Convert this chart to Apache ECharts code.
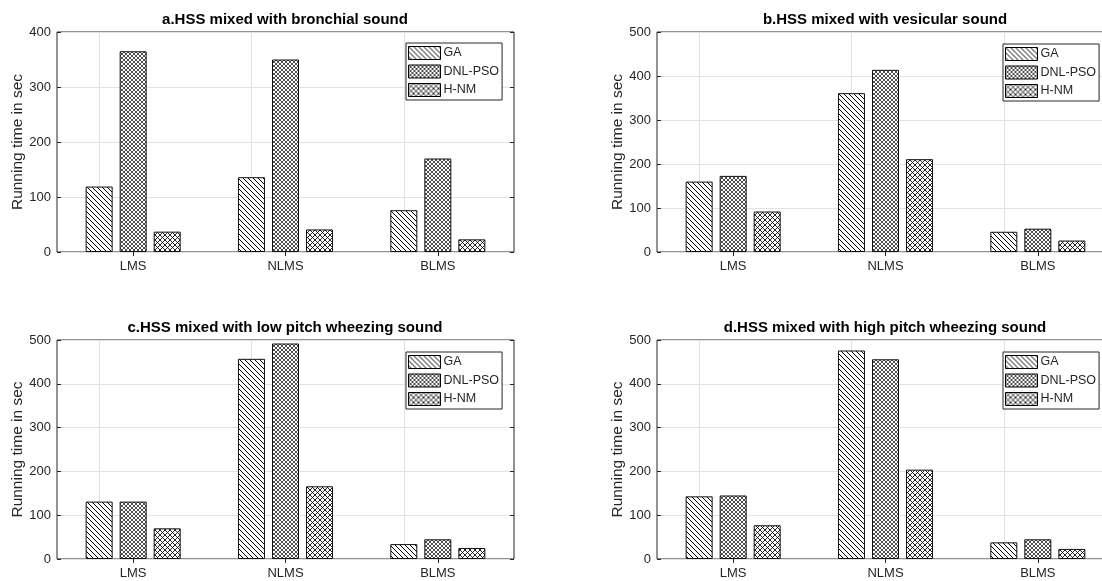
<!DOCTYPE html>
<html>
<head>
<meta charset="utf-8">
<script src="https://cdn.jsdelivr.net/npm/echarts@6/dist/echarts.min.js"></script>
<style>
  html, body { margin: 0; padding: 0; background: #fff; overflow: hidden; }
  /* the right-hand panels run slightly past the page edge */
  #chart { width: 1120px; height: 581px; }
</style>
</head>
<body>
<div id="chart"></div>
<script>
// Algorithms compared in every panel
const categories = ['LMS', 'NLMS', 'BLMS'];
const seriesNames = ['GA', 'DNL-PSO', 'H-NM'];

const panelTitles = [
  'a.HSS mixed with bronchial sound',
  'b.HSS mixed with vesicular sound',
  'c.HSS mixed with low pitch wheezing sound',
  'd.HSS mixed with high pitch wheezing sound'
];
const yAxisName = 'Running time in sec';
const yMax = [400, 500, 500, 500];

// Running times (s) per filter: LMS, NLMS, BLMS
const gaBronchial = [119, 136, 76];
const dnlBronchial = [365, 350, 170];
const hnmBronchial = [37, 41, 23];

const gaVesicular = [160, 361, 46];
const dnlVesicular = [173, 414, 53];
const hnmVesicular = [92, 211, 26];

const gaLowWheeze = [131, 457, 34];
const dnlLowWheeze = [131, 492, 45];
const hnmLowWheeze = [70, 166, 25];

const gaHighWheeze = [143, 476, 38];
const dnlHighWheeze = [145, 456, 45];
const hnmHighWheeze = [77, 204, 23];

const panelData = [
  [gaBronchial, dnlBronchial, hnmBronchial],
  [gaVesicular, dnlVesicular, hnmVesicular],
  [gaLowWheeze, dnlLowWheeze, hnmLowWheeze],
  [gaHighWheeze, dnlHighWheeze, hnmHighWheeze]
];

// Hatch pattern tiles: '\' lines, or cross-hatch
function makeTile(p, back, fwd, lw) {
  const c = document.createElement('canvas');
  c.width = p; c.height = p;
  const g = c.getContext('2d');
  g.fillStyle = '#fff';
  g.fillRect(0, 0, p, p);
  g.strokeStyle = '#000';
  g.lineWidth = lw;
  g.beginPath();
  for (const k of [-p, 0, p]) {
    if (back) { g.moveTo(k, 0); g.lineTo(k + p, p); }
    if (fwd) { g.moveTo(k, p); g.lineTo(k + p, 0); }
  }
  g.stroke();
  return { image: c, repeat: 'repeat' };
}
const fills = [makeTile(5, true, false, 1), makeTile(4, true, true, 0.7), makeTile(5, true, true, 0.85)];

// Panel geometry
const gLeft = [57, 657, 57, 657];
const gTop = [32, 32, 340, 340];
const gHeight = [220, 220, 219, 219];
const gWidth = 457;
const legLeft = [406, 1003, 406, 1003];
const legTop = [43, 44, 352, 352];
const titleTop = [12, 12, 320, 320];

const FONT = '"Liberation Sans", Arial, Helvetica, sans-serif';
const AX = '#262626';

const grids = [], xAxes = [], yAxes = [], series = [], titles = [], legends = [];

for (let i = 0; i < 4; i++) {
  grids.push({
    left: gLeft[i], top: gTop[i], width: gWidth, height: gHeight[i],
    show: true, borderColor: AX, borderWidth: 1, backgroundColor: 'transparent'
  });
  titles.push({
    text: panelTitles[i],
    left: gLeft[i] + 228, top: titleTop[i], textAlign: 'center', padding: 0,
    textStyle: { fontFamily: FONT, fontSize: 15, fontWeight: 'bold', color: '#000' }
  });
  legends.push({
    data: seriesNames,
    left: legLeft[i], top: legTop[i], orient: 'vertical',
    itemWidth: 32, itemHeight: 13, itemGap: 4.5,
    padding: [3, 3, 3, 2],
    backgroundColor: '#fff', borderColor: AX, borderWidth: 1, borderRadius: 0,
    icon: 'rect',
    itemStyle: { borderColor: '#000', borderWidth: 1 },
    textStyle: { fontFamily: FONT, fontSize: 12.5, color: AX, lineHeight: 13, padding: [0, 0, 0, -2] },
    selectedMode: false
  });
  // bottom and top category axes
  xAxes.push({
    type: 'category', data: categories, gridIndex: i, position: 'bottom',
    axisLine: { show: false },
    axisTick: { show: true, inside: true, length: 4, alignWithLabel: true, lineStyle: { color: AX } },
    axisLabel: { fontFamily: FONT, fontSize: 13, color: AX, margin: 8 },
    splitLine: { show: false }
  });
  xAxes.push({
    type: 'category', data: categories, gridIndex: i, position: 'top',
    axisLine: { show: false },
    axisTick: { show: true, inside: true, length: 4, alignWithLabel: true, lineStyle: { color: AX } },
    axisLabel: { show: false },
    splitLine: { show: false }
  });
  // left and right value axes
  yAxes.push({
    type: 'value', gridIndex: i, position: 'left', min: 0, max: yMax[i], interval: 100,
    name: yAxisName, nameLocation: 'middle', nameGap: 31, nameRotate: 90,
    nameTextStyle: { fontFamily: FONT, fontSize: 15.5, color: AX },
    axisLine: { show: false },
    axisTick: { show: true, inside: true, length: 4, lineStyle: { color: AX } },
    axisLabel: { fontFamily: FONT, fontSize: 13, color: AX, margin: 6 },
    splitLine: { show: true, lineStyle: { color: '#e2e2e2', width: 1 } }
  });
  yAxes.push({
    type: 'value', gridIndex: i, position: 'right', min: 0, max: yMax[i], interval: 100,
    axisLine: { show: false },
    axisTick: { show: true, inside: true, length: 4, lineStyle: { color: AX } },
    axisLabel: { show: false },
    splitLine: { show: false }
  });

  for (let s = 0; s < 3; s++) {
    const ser = {
      name: seriesNames[s], type: 'bar',
      xAxisIndex: 2 * i, yAxisIndex: 2 * i,
      data: panelData[i][s],
      barWidth: 27, barGap: '26%',
      itemStyle: { color: fills[s], borderColor: '#111', borderWidth: 1 },
      emphasis: { disabled: true },
      z: 2
    };
    if (s === 0) {
      // vertical grid lines at each category
      ser.markLine = {
        silent: true, symbol: 'none', z: 1,
        label: { show: false },
        lineStyle: { color: '#e2e2e2', width: 1, type: 'solid' },
        data: categories.map(c => ({ xAxis: c }))
      };
    }
    series.push(ser);
  }
}

const chart = echarts.init(document.getElementById('chart'), null, { renderer: 'canvas' });
chart.setOption({
  animation: false,
  backgroundColor: '#fff',
  title: titles,
  legend: legends,
  grid: grids,
  xAxis: xAxes,
  yAxis: yAxes,
  series: series
});
</script>
</body>
</html>
